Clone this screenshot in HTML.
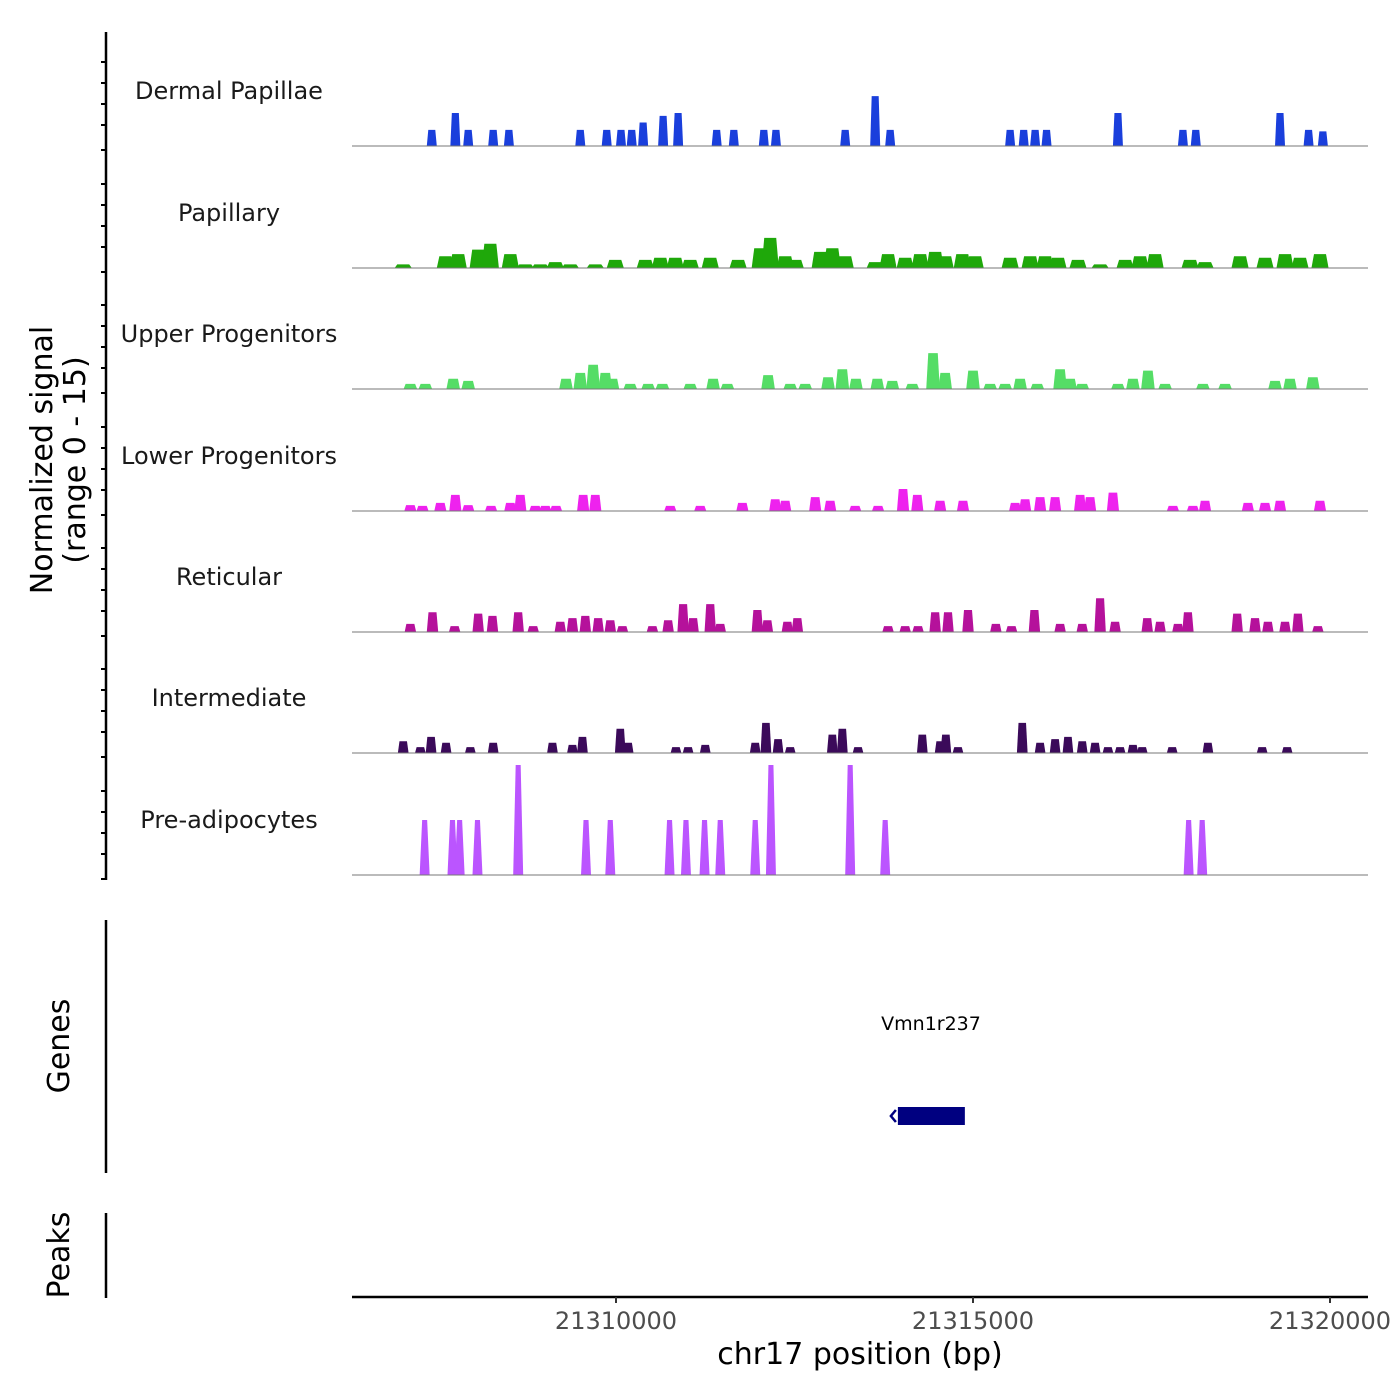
<!DOCTYPE html>
<html><head><meta charset="utf-8">
<style>
body{margin:0;background:#fff;}
svg{display:block;font-family:"DejaVu Sans","Liberation Sans",sans-serif;}
</style></head>
<body>
<svg id="chart" width="1400" height="1400" viewBox="0 0 1400 1400">
<g id="tracks"></g>
<g id="axes"></g>
</svg>
<script>
// ----- data -----
const trackNames = ["Dermal Papillae","Papillary","Upper Progenitors","Lower Progenitors","Reticular","Intermediate","Pre-adipocytes"];
const trackColors = ["#1a3fdc","#1fa80a","#55dd66","#ee22ee","#b5119b","#3b0a5a","#bb55ff"];
const trackWidths = [140, 240, 190, 170, 160, 150, 140]; // bp, peak footprint
// peak centre positions (kb) and signal heights (0-15)
const dermalPos = [21307.42,21307.75,21307.93,21308.28,21308.50,21309.50,21309.87,21310.07,21310.22,21310.38,21310.66,21310.87,21311.41,21311.65,21312.07,21312.24,21313.21,21313.63,21313.84,21315.52,21315.71,21315.87,21316.03,21317.03,21317.94,21318.12,21319.30,21319.70,21319.90];
const dermalVal = [2.2,4.5,2.2,2.2,2.2,2.2,2.2,2.2,2.2,3.2,4.1,4.5,2.2,2.2,2.2,2.2,2.2,6.8,2.2,2.2,2.2,2.2,2.2,4.5,2.2,2.2,4.5,2.2,2.0];
const papPos = [21307.02,21307.61,21307.79,21308.07,21308.24,21308.52,21308.73,21308.94,21309.15,21309.36,21309.71,21309.99,21310.41,21310.62,21310.83,21311.04,21311.32,21311.71,21312.02,21312.16,21312.37,21312.51,21312.86,21313.03,21313.21,21313.63,21313.81,21314.05,21314.26,21314.47,21314.61,21314.85,21315.03,21315.52,21315.80,21316.01,21316.19,21316.47,21316.78,21317.13,21317.34,21317.55,21318.04,21318.25,21318.74,21319.09,21319.37,21319.58,21319.86];
const papVal = [0.5,1.6,1.9,2.5,3.3,1.9,0.5,0.5,0.8,0.5,0.5,1.1,1.1,1.4,1.4,1.1,1.4,1.1,2.7,4.1,1.6,1.1,2.2,2.7,1.6,0.8,1.9,1.4,1.9,2.2,1.6,1.9,1.6,1.4,1.6,1.6,1.4,1.1,0.5,1.1,1.6,1.9,1.1,0.8,1.6,1.4,1.9,1.4,1.9];
const upperPos = [21307.12,21307.33,21307.72,21307.93,21309.30,21309.50,21309.68,21309.85,21309.95,21310.20,21310.45,21310.65,21311.04,21311.36,21311.56,21312.13,21312.44,21312.65,21312.97,21313.17,21313.36,21313.66,21313.87,21314.15,21314.44,21314.61,21315.00,21315.24,21315.45,21315.66,21315.90,21316.22,21316.36,21316.53,21317.03,21317.24,21317.45,21317.69,21318.22,21318.53,21319.23,21319.44,21319.76];
const upperVal = [0.7,0.7,1.4,1.1,1.4,2.2,3.3,2.2,1.4,0.7,0.7,0.7,0.7,1.4,0.7,1.9,0.7,0.7,1.6,2.7,1.4,1.4,1.1,0.7,4.9,2.2,2.5,0.7,0.7,1.4,0.7,2.7,1.4,0.7,0.7,1.4,2.5,0.7,0.7,0.7,1.1,1.4,1.6];
const lowerPos = [21307.12,21307.29,21307.54,21307.75,21307.93,21308.25,21308.52,21308.66,21308.87,21309.01,21309.16,21309.54,21309.71,21310.76,21311.18,21311.77,21312.23,21312.37,21312.79,21313.00,21313.35,21313.67,21314.02,21314.22,21314.54,21314.86,21315.59,21315.73,21315.94,21316.15,21316.50,21316.64,21316.96,21317.80,21318.08,21318.25,21318.85,21319.09,21319.30,21319.86];
const lowerVal = [0.8,0.7,1.1,2.2,0.8,0.7,1.1,2.2,0.7,0.7,0.7,2.2,2.2,0.7,0.7,1.1,1.6,1.4,1.9,1.4,0.7,0.7,3.0,2.2,1.4,1.4,1.1,1.6,1.9,1.9,2.2,1.9,2.5,0.7,0.7,1.4,1.1,1.1,1.4,1.4];
const retPos = [21307.12,21307.43,21307.74,21308.07,21308.27,21308.63,21308.84,21309.22,21309.39,21309.57,21309.75,21309.92,21310.09,21310.51,21310.73,21310.94,21311.08,21311.32,21311.46,21311.98,21312.12,21312.40,21312.54,21313.81,21314.05,21314.23,21314.47,21314.65,21314.93,21315.32,21315.54,21315.86,21316.22,21316.53,21316.78,21316.99,21317.44,21317.62,21317.87,21318.01,21318.70,21318.95,21319.13,21319.37,21319.55,21319.83];
const retVal = [1.1,2.7,0.8,2.5,2.2,2.7,0.8,1.4,1.9,2.2,1.9,1.6,0.8,0.8,1.6,3.8,1.9,3.8,1.1,3.0,1.6,1.4,1.9,0.8,0.8,0.8,2.7,2.7,3.0,1.1,0.8,3.0,1.1,1.1,4.6,1.4,1.9,1.4,1.1,2.7,2.5,1.9,1.4,1.4,2.5,0.8];
const interPos = [21307.02,21307.26,21307.41,21307.62,21307.96,21308.28,21309.11,21309.39,21309.53,21310.06,21310.17,21310.84,21311.01,21311.25,21311.95,21312.10,21312.27,21312.44,21313.03,21313.17,21313.39,21314.29,21314.54,21314.62,21314.79,21315.69,21315.94,21316.15,21316.33,21316.53,21316.71,21316.89,21317.06,21317.24,21317.37,21317.79,21318.29,21319.05,21319.40];
const interVal = [1.6,0.8,2.2,1.4,0.8,1.4,1.4,1.1,2.2,3.3,1.4,0.8,0.8,1.1,1.4,4.1,1.9,0.8,2.5,3.3,0.8,2.5,1.6,2.5,0.8,4.1,1.4,1.9,2.2,1.6,1.4,0.8,0.8,1.1,0.8,0.8,1.4,0.8,0.8];
const prePos = [21307.32,21307.71,21307.81,21308.06,21308.63,21309.58,21309.92,21310.75,21310.98,21311.24,21311.46,21311.95,21312.17,21313.28,21313.77,21318.02,21318.21];
const preVal = [7.5,7.5,7.5,7.5,15,7.5,7.5,7.5,7.5,7.5,7.5,7.5,15,15,7.5,7.5,7.5];
const trackPos = [dermalPos,papPos,upperPos,lowerPos,retPos,interPos,prePos];
const trackVal = [dermalVal,papVal,upperVal,lowerVal,retVal,interVal,preVal];
const xTicks = [21310000,21315000,21320000];
const xTickLabels = ["21310000","21315000","21320000"];
const geneName = "Vmn1r237";
const geneStart = 21313948, geneEnd = 21314886;

// ----- scales -----
const X0 = 352, X1 = 1368;
const bpPerPx = 5000/357;
function xs(bp){ return 616 + (bp - 21310000)/bpPerPx; }
const baselines = [146,268,389,511,632,753,875];
const pxPerUnit = 110/15;
function ys(i,v){ return baselines[i] - v*pxPerUnit; }

const NS = "http://www.w3.org/2000/svg";
function mk(tag, attrs, parent){ const e=document.createElementNS(NS,tag); for(const k in attrs) e.setAttribute(k,attrs[k]); parent.appendChild(e); return e; }
const gT = document.getElementById('tracks'), gA = document.getElementById('axes');

trackNames.forEach((name,i)=>{
  const g = mk('g',{},gT);
  
  
  const lbl = mk('text',{x:229,y:baselines[i]-47,'text-anchor':'middle','font-size':24,fill:'#1a1a1a'},g);
  lbl.textContent = name;
  
  
  const w = trackWidths[i]/bpPerPx;
  trackPos[i].forEach((p,j)=>{
    const cx = xs(p*1000), yb = baselines[i], yt = ys(i, trackVal[i][j]);
    const top = i===6 ? w*0.25 : w*0.35;
    const poly = mk('polygon',{points:`${cx-w/2},${yb} ${cx-top},${yt} ${cx+top},${yt} ${cx+w/2},${yb}`,fill:trackColors[i]},g);
    
    
  });
  const bl = mk('line',{x1:X0,x2:X1,y1:baselines[i],y2:baselines[i],stroke:'#777','stroke-width':1},g);
  
  
});

// y axis
const ya = mk('line',{x1:106,x2:106,y1:32,y2:880,stroke:'#000','stroke-width':2.5},gA);


baselines.forEach((b,i)=>{
  for(let k=0;k<5;k++){
    const y = b + 4 - k*21 - (k>0?4:0);
    const t = mk('line',{x1:101,x2:106,y1:y,y2:y,stroke:'#000','stroke-width':2},gA);
    
    
  }
});
const yt = mk('text',{transform:'translate(52,460) rotate(-90)','text-anchor':'middle','font-size':30,fill:'#000'},gA);


yt.innerHTML = '<tspan x="0" dy="0">Normalized signal</tspan><tspan x="0" dy="33">(range 0 - 15)</tspan>';

// genes panel
const ga = mk('line',{x1:106,x2:106,y1:920,y2:1173,stroke:'#000','stroke-width':2.5},gA);


const gtt = mk('text',{transform:'translate(69,1046) rotate(-90)','text-anchor':'middle','font-size':30,fill:'#000'},gA);
gtt.textContent='Genes';


const gl = mk('text',{x:931,y:1030,'text-anchor':'middle','font-size':19,fill:'#000'},gA);
gl.textContent = geneName;


const gb = mk('rect',{x:xs(geneStart),y:1107,width:xs(geneEnd)-xs(geneStart),height:18,fill:'#000080'},gA);


const garr = mk('path',{d:`M${xs(geneStart)-2},1110 L${xs(geneStart)-7},1116 L${xs(geneStart)-2},1122`,stroke:'#000080','stroke-width':2.5,fill:'none'},gA);



// peaks panel
const pa = mk('line',{x1:106,x2:106,y1:1213,y2:1298,stroke:'#000','stroke-width':2.5},gA);


const ptt = mk('text',{transform:'translate(69,1255) rotate(-90)','text-anchor':'middle','font-size':30,fill:'#000'},gA);
ptt.textContent='Peaks';



// x axis
const xa = mk('line',{x1:X0,x2:X1,y1:1297,y2:1297,stroke:'#000','stroke-width':2.5},gA);


xTicks.forEach((t,i)=>{
  const tk = mk('line',{x1:xs(t),x2:xs(t),y1:1297,y2:1303,stroke:'#333','stroke-width':2},gA);
  
  
  const tl = mk('text',{x:xs(t),y:1329,'text-anchor':'middle','font-size':24,fill:'#4d4d4d'},gA);
  tl.textContent = xTickLabels[i];
  
  
});
const xt = mk('text',{x:860,y:1364,'text-anchor':'middle','font-size':30,fill:'#000'},gA);
xt.textContent='chr17 position (bp)';


</script>
</body></html>
